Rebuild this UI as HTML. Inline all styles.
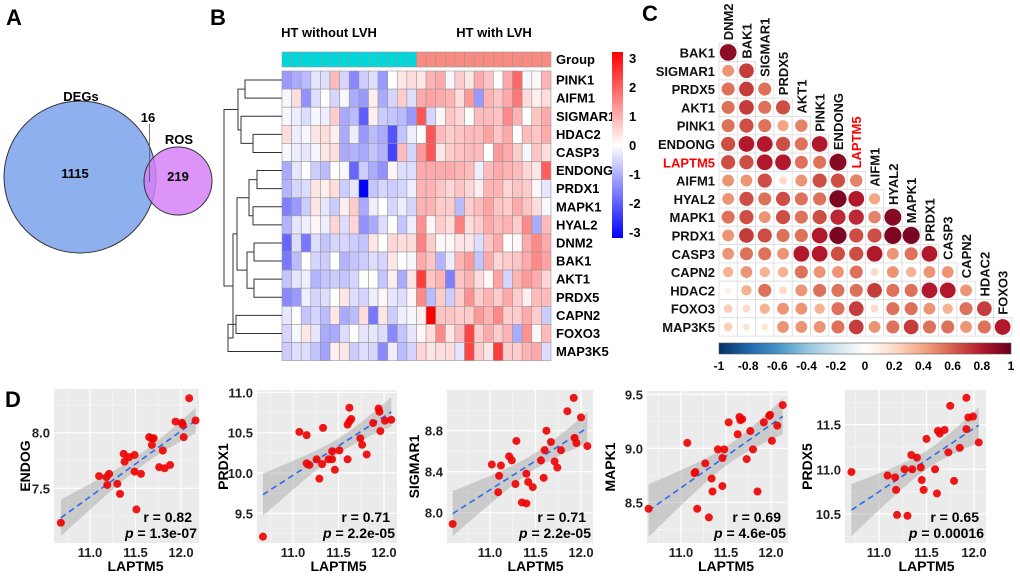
<!DOCTYPE html>
<html><head><meta charset="utf-8">
<style>
html,body{margin:0;padding:0;background:#fff;}
svg{display:block;font-family:"Liberation Sans",Arial,sans-serif;}
</style></head>
<body>
<svg id="fig" width="1020" height="578" viewBox="0 0 1020 578" xmlns="http://www.w3.org/2000/svg">
<defs>
<linearGradient id="hmgrad" x1="0" y1="1" x2="0" y2="0">
<stop offset="0" stop-color="#0000ff"/><stop offset="0.5" stop-color="#ffffff"/><stop offset="1" stop-color="#ff0000"/>
</linearGradient>
<linearGradient id="rdbu" x1="0" y1="0" x2="1" y2="0">
<stop offset="0" stop-color="#053061"/><stop offset="0.1" stop-color="#2166ac"/><stop offset="0.2" stop-color="#4393c3"/><stop offset="0.3" stop-color="#92c5de"/><stop offset="0.4" stop-color="#d1e5f0"/><stop offset="0.5" stop-color="#ffffff"/><stop offset="0.6" stop-color="#fddbc7"/><stop offset="0.7" stop-color="#f4a582"/><stop offset="0.8" stop-color="#d6604d"/><stop offset="0.9" stop-color="#b2182b"/><stop offset="1" stop-color="#67001f"/>
</linearGradient>
</defs>
<!-- Panel A -->
<g>
<text x="6" y="25" font-size="22" font-weight="bold">A</text>
<circle cx="80" cy="177" r="76" fill="#8fb0ef" stroke="#333" stroke-width="1"/>
<circle cx="178" cy="181" r="34" fill="#d67cf7" fill-opacity="0.82" stroke="#333" stroke-width="1"/>
<line x1="149.5" y1="124" x2="149.5" y2="182" stroke="#555" stroke-width="0.8"/>
<text x="81" y="101" font-size="13" font-weight="bold" text-anchor="middle">DEGs</text>
<text x="148" y="122" font-size="13" font-weight="bold" text-anchor="middle">16</text>
<text x="179" y="144" font-size="13" font-weight="bold" text-anchor="middle">ROS</text>
<text x="75" y="178" font-size="13" font-weight="bold" text-anchor="middle">1115</text>
<text x="178" y="181" font-size="13" font-weight="bold" text-anchor="middle">219</text>
</g>
<g id="panelB">
<text x="210" y="25" font-size="22" font-weight="bold">B</text>
<text x="329" y="37" font-size="13" font-weight="bold" text-anchor="middle">HT without LVH</text>
<text x="494" y="37" font-size="13" font-weight="bold" text-anchor="middle">HT with LVH</text>
</g>
<g id="panelC">
<text x="642" y="21" font-size="22" font-weight="bold">C</text>
</g>
<g id="panelD">
<text x="5" y="407" font-size="22" font-weight="bold">D</text>
</g>
</svg>
<script>
// ---------- Panel B data ----------
const hmGenes = ["PINK1","AIFM1","SIGMAR1","HDAC2","CASP3","ENDONG","PRDX1","MAPK1","HYAL2","DNM2","BAK1","AKT1","PRDX5","CAPN2","FOXO3","MAP3K5"];
const hmGroupA = 14, hmGroupB = 14;
const hmValues = [
[-1.2,-1,-0.8,-0.3,-0.4,0.8,-0.5,-1.4,-0.6,-0.4,-1.2,0,0.3,0.4, 0.3,0.9,1,-0.1,0.6,0.3,1,0.7,0,1,1.8,-0.1,0.1,0.9],
[-0.1,0.4,-1.3,-0.4,0,-0.5,-0.1,-1,-1.2,0.2,-1,-0.5,0.6,-0.4, 1,1.1,1,0.9,0.4,1.2,-1.2,0.9,0.7,1,1.6,0.4,0.2,0.4],
[-0.1,-0.2,-0.4,-0.1,-0.2,0.6,-1,-0.8,-1.9,0.2,-0.6,-0.7,-0.8,-1.2, 2,-0.5,0.1,0.7,0.5,0,0.8,0.8,0.7,1.4,0.9,0,0.7,1],
[0.4,-0.2,-0.1,0.3,0.4,0.2,-1,-0.2,-1.2,-0.8,-1,-2,-0.7,-0.2, 0,2,0.8,0.6,0.7,0.8,0.8,1.1,0.7,1,0,0.8,0.7,1],
[-0.1,-0.2,-0.3,-0.1,0.3,0.4,-1,-0.9,-1,-0.7,-0.9,-2.2,0.8,-0.5, 1.2,2,0.3,0.6,0.7,0.8,0.8,0,1.2,1,0.6,-0.1,0.7,0.4],
[-1,-0.3,0,-0.6,-0.8,0,-0.1,-1.8,-0.6,-1,-1.3,0.1,-0.4,-0.4, 1,1,1,1,0.9,0.8,-0.2,0.8,1,0.9,0.8,0.5,0.3,1.9],
[-0.9,-0.5,-0.4,0.3,0.2,0.4,-0.6,-0.3,-3,-0.7,-0.5,-0.6,-0.5,-0.2, 0.9,0.9,0.7,0.5,0.7,0.5,0.2,0.9,0.9,0.5,0.7,0.6,0.1,-0.3],
[-1.5,-1.2,-0.6,0.3,-0.3,-0.6,0.2,0.6,-1,-0.2,0,-0.5,-0.2,-0.5, 0.9,0.9,0.6,0.6,-0.8,0.6,0.8,1.1,0.7,0.6,1,0.7,0.4,-0.1],
[-0.9,-0.3,-0.2,0.1,-0.2,0.5,-0.4,0.5,-1.3,-1,-0.4,0,-0.7,-0.2, 1.3,0.1,0.6,0.4,1.5,0.4,0.6,1,0.8,0.9,0.6,1.4,-1,0.8],
[-1.8,-0.4,-1.6,-0.4,-0.7,-0.5,-0.5,-0.6,-0.7,0.3,0,0.5,0.4,0.4, 1.5,0.6,0.1,0.1,0.3,0.3,-0.4,0.7,1,0,0.1,1,1.4,1],
[-1.6,-0.8,0,-0.5,-0.6,0,-0.9,-0.7,-0.6,-0.4,-0.5,0.3,0,-0.1, 1,0.7,-0.9,-0.2,0.9,1.2,-0.7,1,0.5,0.6,0.7,1,1.4,1.1],
[-0.7,-0.3,-0.2,-0.9,-0.7,-0.6,-0.7,-0.5,0,0,-0.7,0.2,-1,0.3, 2.3,0.7,0.9,-1.5,0.7,0.9,0.4,0.1,1.1,-0.5,0.9,1.2,1,0.5],
[-1.4,-1.2,-0.2,-0.5,-0.4,0,0.3,-0.4,-0.5,-0.2,0.1,-0.3,-0.4,0.1, 1.4,-0.8,0.6,-0.6,0.6,1.3,0.6,0.9,0.6,1,0.6,0.2,0.8,0.8],
[-0.3,0,-0.7,-0.5,-0.8,0.3,-1,-0.8,0.4,-1.6,0.3,-0.6,-0.2,-0.1, 0.2,3,0.7,0.7,0.6,0.6,1.2,0.9,1.4,0.6,0.6,1,0.6,-0.6],
[-0.5,-0.1,0.3,-0.3,-1,-1,-0.4,0,-0.3,-0.3,-0.4,-1.4,-0.7,-0.3, 0.1,0.4,1.4,0.3,0.8,2.2,0.6,1,0.6,0.9,-1,1.3,0.1,0.8],
[-0.6,-0.4,-0.4,-0.7,-1.1,0.2,0.3,-0.6,-0.4,-0.5,-1.4,-0.2,-0.8,-0.5, 0.5,0.3,0.4,0.4,-0.3,2.2,0.6,0.3,2.3,0.6,0.6,0.9,1,-0.4]
];
const hmScaleTicks = [3,2,1,0,-1,-2,-3];
// dendrogram merges: [left node, right node, x position]; leaves 0..15, internal nodes 16+
const hmMerges = [[0,1,245],[3,4,253],[2,17,241],[16,18,238],[5,6,257],[7,8,253],[20,21,249],[9,10,254],[11,12,254],[23,24,247],[22,25,237],[13,14,236],[27,15,228],[26,28,233],[19,29,224]];

// ---------- Panel C data ----------
const corrGenesRows = ["BAK1","SIGMAR1","PRDX5","AKT1","PINK1","ENDONG","LAPTM5","AIFM1","HYAL2","MAPK1","PRDX1","CASP3","CAPN2","HDAC2","FOXO3","MAP3K5"];
const corrGenesCols = ["DNM2","BAK1","SIGMAR1","PRDX5","AKT1","PINK1","ENDONG","LAPTM5","AIFM1","HYAL2","MAPK1","PRDX1","CASP3","CAPN2","HDAC2","FOXO3"];
const corrValues = [
[0.9],
[0.45,0.7],
[0.55,0.7,0.55],
[0.55,0.7,0.55,0.65],
[0.55,0.65,0.55,0.4,0.5],
[0.65,0.8,0.8,0.65,0.55,0.8],
[0.65,0.65,0.8,0.8,0.55,0.55,0.92],
[0.45,0.45,0.65,0.2,0.45,0.65,0.65,0.5],
[0.45,0.65,0.55,0.65,0.55,0.55,0.95,0.8,0.4],
[0.55,0.65,0.45,0.65,0.55,0.65,0.75,0.75,0.5,0.92],
[0.45,0.7,0.65,0.55,0.55,0.8,0.95,0.65,0.65,0.95,0.95],
[0.45,0.55,0.55,0.45,0.8,0.8,0.65,0.65,0.8,0.45,0.55,0.8],
[0.35,0.45,0.35,0.35,0.55,0.45,0.45,0.55,0.2,0.45,0.35,0.45,0.45],
[0.1,0.35,0.55,0.2,0.45,0.55,0.55,0.55,0.7,0.55,0.55,0.8,0.8,0.45],
[0.25,0.2,0.35,0.45,0.45,0.35,0.55,0.7,0.2,0.55,0.55,0.45,0.35,0.55,0.7],
[0.25,0.15,0.15,0.45,0.45,0.45,0.55,0.7,0.45,0.55,0.7,0.55,0.55,0.45,0.55,0.8]
];
const corrTickLabels = ["-1","-0.8","-0.6","-0.4","-0.2","0","0.2","0.4","0.6","0.8","1"];

// ---------- Panel D data ----------
const sc1X = [10.68,11.10,11.18,11.21,11.19,11.30,11.33,11.37,11.38,11.43,11.49,11.49,11.51,11.56,11.65,11.68,11.70,11.68,11.80,11.76,11.82,11.88,11.94,12.01,12.02,12.03,12.09,12.16];
const sc1Y = [7.19,7.61,7.60,7.63,7.53,7.54,7.45,7.81,7.74,7.78,7.80,7.65,7.31,7.63,7.96,7.95,7.95,7.89,7.84,7.69,7.68,7.71,8.10,8.09,8.07,7.96,8.31,8.11];
const sc2X = [10.67,11.07,11.15,11.15,11.18,11.26,11.29,11.32,11.33,11.39,11.43,11.43,11.46,11.51,11.60,11.62,11.64,11.62,11.60,11.74,11.76,11.81,11.88,11.94,11.95,11.96,12.01,12.08];
const sc2Y = [9.21,10.51,10.47,10.12,10.10,10.17,9.93,10.11,10.56,10.17,10.27,10.17,10.04,10.28,10.60,10.64,10.67,10.81,10.17,10.43,10.35,10.23,10.62,10.80,10.76,10.52,10.65,10.66];
const sc3X = [10.59,11.02,11.12,11.10,11.09,11.21,11.24,11.28,11.29,11.35,11.40,11.40,11.42,11.47,11.56,11.59,11.60,11.62,11.67,11.71,11.74,11.78,11.85,11.92,11.93,11.95,12.00,12.07];
const sc3Y = [7.89,8.47,8.46,8.36,8.20,8.55,8.51,8.28,8.70,8.10,8.09,8.38,8.30,8.25,8.51,8.34,8.61,8.80,8.69,8.50,8.44,8.61,8.99,9.12,8.73,8.68,8.93,8.65];
const sc4X = [10.64,11.07,11.16,11.15,11.18,11.27,11.31,11.34,11.35,11.41,11.46,11.46,11.48,11.53,11.63,11.65,11.66,11.68,11.73,11.77,11.80,11.85,11.92,11.99,11.98,12.01,12.07,12.13];
const sc4Y = [8.44,9.05,8.78,8.77,8.44,8.86,8.36,8.72,8.60,8.99,8.65,8.91,8.99,9.24,9.13,9.29,9.26,9.27,8.90,9.16,8.99,8.60,9.24,9.31,9.30,9.07,9.21,9.40];
const sc5X = [10.71,11.09,11.17,11.18,11.19,11.27,11.30,11.34,11.35,11.40,11.44,11.45,11.47,11.50,11.59,11.61,11.62,11.64,11.69,11.73,11.75,11.79,11.85,11.92,11.92,11.94,11.99,12.05];
const sc5Y = [10.97,10.93,10.91,10.77,10.49,11.00,10.48,11.16,11.00,11.13,11.02,10.88,10.77,11.34,11.00,10.73,11.43,11.40,11.44,11.19,11.71,10.87,11.24,11.80,11.45,11.58,11.59,11.30];
const scYNames = ["ENDOG","PRDX1","SIGMAR1","MAPK1","PRDX5"];
const scXTicks = [11.0,11.5,12.0];
const scYTicks1 = [7.5,8.0];
const scYTicks2 = [9.5,10.0,10.5,11.0];
const scYTicks3 = [8.0,8.4,8.8];
const scYTicks4 = [8.5,9.0,9.5];
const scYTicks5 = [10.5,11.0,11.5];
const scR = ["0.82","0.71","0.71","0.69","0.65"];
const scP = ["1.3e-07","2.2e-05","2.2e-05","4.6e-05","0.00016"];

const NS="http://www.w3.org/2000/svg";
function mk(parent,tag,attrs,text){const e=document.createElementNS(NS,tag);for(const k in attrs)e.setAttribute(k,attrs[k]);if(text!==undefined)e.textContent=text;parent.appendChild(e);return e;}

// ---------- Panel B ----------
(function(){
const g=document.getElementById('panelB');
const x0=282,cw=269/(hmGroupA+hmGroupB),gy=52,gh=15,y0=71,rh=18.1;
function hmColor(v){v=Math.max(-3,Math.min(3,v));let t=Math.abs(v)/3;const c=Math.round(255*(1-t));return v>=0?`rgb(255,${c},${c})`:`rgb(${c},${c},255)`;}
for(let j=0;j<hmGroupA+hmGroupB;j++){
  const r=mk(g,'rect',{x:x0+j*cw,y:gy,width:cw,height:gh,fill:j<hmGroupA?'#00d8dc':'#f98a80',stroke:'#999','stroke-width':0.6});
  
  
}
const gl=mk(g,'text',{x:556,y:gy+12,'font-size':13,'font-weight':'bold'},'Group');


hmValues.forEach((row,i)=>{
  row.forEach((v,j)=>{
    const r=mk(g,'rect',{x:x0+j*cw,y:y0+i*rh,width:cw,height:rh,fill:hmColor(v),stroke:'#999','stroke-width':0.6});
    
    
  });
  const t=mk(g,'text',{x:556,y:y0+i*rh+rh/2+4.5,'font-size':13,'font-weight':'bold'},hmGenes[i]);
  
  
});
// dendrogram
const pos={};for(let i=0;i<16;i++)pos[i]={x:x0,y:y0+i*rh+rh/2};
hmMerges.forEach((m,k)=>{
  const a=pos[m[0]],b=pos[m[1]],x=m[2];
  const p=mk(g,'path',{d:`M${a.x},${a.y}H${x}V${b.y}H${b.x}`,fill:'none',stroke:'#333','stroke-width':1});
  
  
  pos[16+k]={x:x,y:(a.y+b.y)/2};
});
// colour bar
const cb=mk(g,'rect',{x:612,y:52,width:11,height:186,fill:'url(#hmgrad)'});


hmScaleTicks.forEach(v=>{
  const y=52+186*(3.2-v)/6.4;
  const t=mk(g,'text',{x:629,y:y+5,'font-size':13,'font-weight':'bold'},String(v));
  
  
});
})();

// ---------- Panel C ----------
(function(){
const g=document.getElementById('panelC');
const x0=719,y0=43.3,cs=18.3;
const stops=[[-1,[5,48,97]],[-0.8,[33,102,172]],[-0.6,[67,147,195]],[-0.4,[146,197,222]],[-0.2,[209,229,240]],[0,[255,255,255]],[0.2,[253,219,199]],[0.4,[244,165,130]],[0.6,[214,96,77]],[0.8,[178,24,43]],[1,[103,0,31]]];
function col(v){for(let i=0;i<stops.length-1;i++){if(v<=stops[i+1][0]){const t=(v-stops[i][0])/0.2;const a=stops[i][1],b=stops[i+1][1];return `rgb(${a.map((c,k)=>Math.round(c+(b[k]-c)*t)).join(',')})`;}}return 'rgb(103,0,31)';}
corrValues.forEach((row,i)=>{
  row.forEach((v,j)=>{
    const cx=x0+j*cs,cy=y0+i*cs;
    const r=mk(g,'rect',{x:cx,y:cy,width:cs,height:cs,fill:'#fff',stroke:'#dcdcdc','stroke-width':0.8});
    
    
    const c=mk(g,'circle',{cx:cx+cs/2,cy:cy+cs/2,r:Math.sqrt(Math.abs(v))*8.8,fill:col(v)});
    
    
  });
  const lab=corrGenesRows[i];
  const t=mk(g,'text',{x:x0-4,y:y0+i*cs+cs/2+5,'font-size':13,'font-weight':'bold','text-anchor':'end',fill:lab==='LAPTM5'?'#ff0000':'#111'},lab);
  
  
});
corrGenesCols.forEach((lab,j)=>{
  const x=x0+j*cs+cs/2+5,y=y0+j*cs-3;
  const t=mk(g,'text',{x:x,y:y,'font-size':13,'font-weight':'bold',transform:`rotate(-90 ${x} ${y})`,fill:lab==='LAPTM5'?'#ff0000':'#111'},lab);
  
  
});
const cb=mk(g,'rect',{x:719,y:343,width:292,height:11,fill:'url(#rdbu)',stroke:'#555','stroke-width':0.6});


corrTickLabels.forEach((s,k)=>{
  const t=mk(g,'text',{x:719+292*k/10,y:370,'font-size':12,'font-weight':'bold','text-anchor':'middle'},s);
  
  
});
})();

// ---------- Panel D ----------
(function(){
const g=document.getElementById('panelD');
// layout per plot: panel left/right, x-tick pixel refs, y-tick pixel refs
const L=[
 {l:54,r:199,t:389,b:543,xa:[11,90,12,181],ya:[8.0,432.7,7.5,488.3],tx:30,X:sc1X,Y:sc1Y,yt:scYTicks1},
 {l:257,r:397,t:390,b:543,xa:[11,293,12,384],ya:[10.0,473,9.5,513.3],tx:228,X:sc2X,Y:sc2Y,yt:scYTicks2},
 {l:447,r:593,t:390,b:543,xa:[11,490,12,581],ya:[8.8,430.7,8.4,471.7],tx:419,X:sc3X,Y:sc3Y,yt:scYTicks3},
 {l:647,r:788,t:391,b:543,xa:[11,681,12,771],ya:[9.0,448.3,8.5,502.3],tx:615,X:sc4X,Y:sc4Y,yt:scYTicks4},
 {l:845,r:986,t:390,b:543,xa:[11,879,12,974],ya:[11.0,469.3,10.5,514],tx:812,X:sc5X,Y:sc5Y,yt:scYTicks5}
];
L.forEach((p,k)=>{
  const sx=v=>p.xa[1]+(v-p.xa[0])*(p.xa[3]-p.xa[1])/(p.xa[2]-p.xa[0]);
  const sy=v=>p.ya[1]+(v-p.ya[0])*(p.ya[3]-p.ya[1])/(p.ya[2]-p.ya[0]);
  const iy=py=>p.ya[0]+(py-p.ya[1])*(p.ya[2]-p.ya[0])/(p.ya[3]-p.ya[1]);
  const ix=px=>p.xa[0]+(px-p.xa[1])*(p.xa[2]-p.xa[0])/(p.xa[3]-p.xa[1]);
  const pg=mk(g,'g',{});
  
  
  const bg=mk(pg,'rect',{x:p.l,y:p.t,width:p.r-p.l,height:p.b-p.t,fill:'#ebebeb'});
  
  
  const ydel=p.yt[1]-p.yt[0];
  // minor grid
  for(let v=scXTicks[0]-0.25;v<=12.3;v+=0.5){const x=sx(v);if(x>p.l&&x<p.r){const ln=mk(pg,'line',{x1:x,x2:x,y1:p.t,y2:p.b,stroke:'#f7f7f7','stroke-width':0.6});}}
  for(let v=p.yt[0]-ydel*1.5;v<=p.yt[p.yt.length-1]+ydel*1.6;v+=ydel){const y=sy(v);if(y>p.t&&y<p.b){const ln=mk(pg,'line',{x1:p.l,x2:p.r,y1:y,y2:y,stroke:'#f7f7f7','stroke-width':0.6});}}
  scXTicks.forEach(v=>{const x=sx(v);
    const ln=mk(pg,'line',{x1:x,x2:x,y1:p.t,y2:p.b,stroke:'#fff','stroke-width':1.2});
    const t=mk(pg,'text',{x:x,y:p.b+14,'font-size':13,'font-weight':'bold','text-anchor':'middle',fill:'#222'},v.toFixed(1));});
  p.yt.forEach(v=>{const y=sy(v);
    const ln=mk(pg,'line',{x1:p.l,x2:p.r,y1:y,y2:y,stroke:'#fff','stroke-width':1.2});
    const t=mk(pg,'text',{x:p.l-4,y:y+5,'font-size':13,'font-weight':'bold','text-anchor':'end',fill:'#222'},v.toFixed(1));});
  // regression
  const n=p.X.length,mx=p.X.reduce((a,b)=>a+b)/n,my=p.Y.reduce((a,b)=>a+b)/n;
  let sxx=0,sxy=0;for(let i=0;i<n;i++){sxx+=(p.X[i]-mx)**2;sxy+=(p.X[i]-mx)*(p.Y[i]-my);}
  const b=sxy/sxx,a=my-b*mx;let sse=0;for(let i=0;i<n;i++)sse+=(p.Y[i]-a-b*p.X[i])**2;
  const s=Math.sqrt(sse/(n-2)),tq=2.056;
  const xmin=Math.min(...p.X),xmax=Math.max(...p.X);
  const up=[],lo=[];
  for(let i=0;i<=40;i++){const xv=xmin+(xmax-xmin)*i/40;const se=s*Math.sqrt(1/n+(xv-mx)**2/sxx);const f=a+b*xv;up.push([sx(xv),sy(f+tq*se)]);lo.push([sx(xv),sy(f-tq*se)]);}
  const band=mk(pg,'path',{d:'M'+up.map(q=>q.join(',')).join('L')+'L'+lo.reverse().map(q=>q.join(',')).join('L')+'Z',fill:'#999','fill-opacity':0.4});
  
  
  const fl=mk(pg,'line',{x1:sx(xmin),y1:sy(a+b*xmin),x2:sx(xmax),y2:sy(a+b*xmax),stroke:'#2b6cf0','stroke-width':1.6,'stroke-dasharray':'6,4'});
  
  
  for(let i=0;i<n;i++){
    const c=mk(pg,'circle',{cx:sx(p.X[i]),cy:sy(p.Y[i]),r:4,fill:'#ee0000','fill-opacity':0.9});
    
    
  }
  const rt=mk(pg,'text',{x:p.r-7,y:p.b-21,'font-size':14,'font-weight':'bold','text-anchor':'end'},'r = '+scR[k]);
  
  
  const pt=mk(pg,'text',{x:p.r-2,y:p.b-5,'font-size':14,'font-weight':'bold','text-anchor':'end'});
  
  
  mk(pt,'tspan',{'font-style':'italic'},'p');
  mk(pt,'tspan',{},' = '+scP[k]);
  const xt=mk(pg,'text',{x:(sx(11)+sx(12))/2,y:p.b+28,'font-size':14,'font-weight':'bold','text-anchor':'middle'},'LAPTM5');
  
  
  const cy=(p.t+p.b)/2;
  const yt=mk(pg,'text',{x:p.tx,y:cy,'font-size':14,'font-weight':'bold','text-anchor':'middle',transform:`rotate(-90 ${p.tx} ${cy})`},scYNames[k]);
  
  
});
})();
</script>
</body></html>
